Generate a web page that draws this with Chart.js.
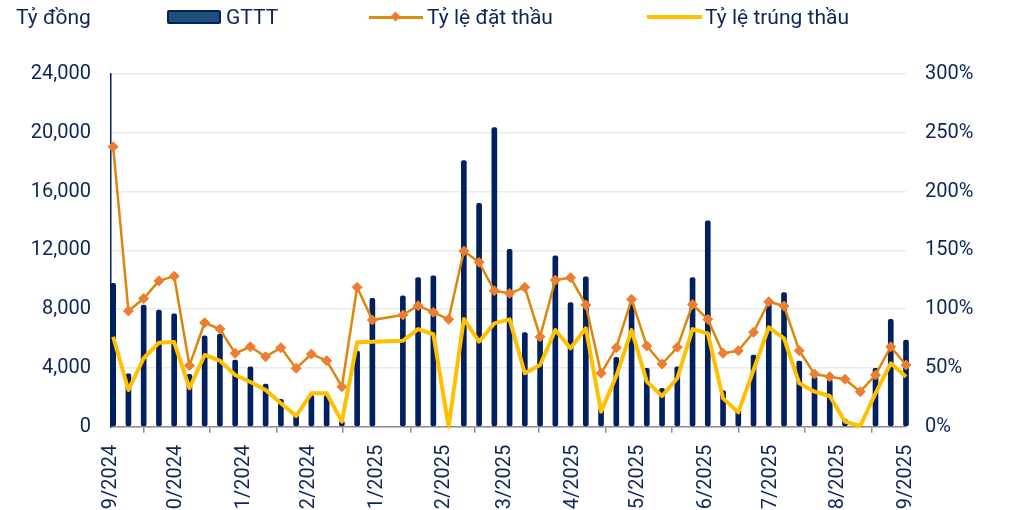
<!DOCTYPE html>
<html>
<head>
<meta charset="utf-8">
<script src="https://cdn.jsdelivr.net/npm/chart.js@4.4.1/dist/chart.umd.min.js"></script>
<style>
  html, body { margin: 0; padding: 0; background: #fff; overflow: hidden; width: 1010px; height: 510px; }
  #wrap { position: relative; width: 1010px; height: 510px; overflow: hidden; font-family: Roboto, sans-serif; color: #0d2557; }
  #chart { position: absolute; left: 0; top: 0; }
  .lbl { position: absolute; font-size: 21px; line-height: 21px; white-space: nowrap; }
  .swatch { position: absolute; }
</style>
</head>
<body>
<div id="wrap">
  <canvas id="chart" width="1010" height="530"></canvas>
  <div class="lbl" style="left:16px; top:7px;">Tỷ đồng</div>
  <div class="swatch" style="left:167px; top:10px; width:50px; height:10px; background:#1f4e79; border:2px solid #002060; border-radius:2px;"></div>
  <div class="lbl" style="left:226px; top:7px;">GTTT</div>
  <div class="swatch" style="left:369px; top:16px; width:54px; height:3px; background:#e08a10;"></div>
  <div class="swatch" style="left:392px; top:13px; width:7px; height:7px; background:#ed7d31; transform:rotate(45deg);"></div>
  <div class="lbl" style="left:427px; top:7px;">Tỷ lệ đặt thầu</div>
  <div class="swatch" style="left:647px; top:15px; width:55px; height:4px; background:#ffc000;"></div>
  <div class="lbl" style="left:705px; top:7px;">Tỷ lệ trúng thầu</div>
</div>
<script>
// Weekly auction dates (no auction data in the week of 2025-01-08)
const weekDates = [
  "2024-09-04", "2024-09-11", "2024-09-18", "2024-09-25", "2024-10-02", "2024-10-09",
  "2024-10-16", "2024-10-23", "2024-10-30", "2024-11-06", "2024-11-13", "2024-11-20",
  "2024-11-27", "2024-12-04", "2024-12-11", "2024-12-18", "2024-12-25", "2025-01-01",
  "2025-01-15", "2025-01-22", "2025-01-29", "2025-02-05", "2025-02-12", "2025-02-19",
  "2025-02-26", "2025-03-05", "2025-03-12", "2025-03-19", "2025-03-26", "2025-04-02",
  "2025-04-09", "2025-04-16", "2025-04-23", "2025-04-30", "2025-05-07", "2025-05-14",
  "2025-05-21", "2025-05-28", "2025-06-04", "2025-06-11", "2025-06-18", "2025-06-25",
  "2025-07-02", "2025-07-09", "2025-07-16", "2025-07-23", "2025-07-30", "2025-08-06",
  "2025-08-13", "2025-08-20", "2025-08-27", "2025-09-03"
];

// GTTT (ty dong)
const gttt = [
  9750, 3600, 8280, 7940, 7670, 3560, 6190, 6300, 4540, 4080, 2900, 1860,
  800, 2110, 2110, 390, 5150, 8730,
  8910, 10140, 10270, 0, 18100, 15200, 20340, 12070, 6400, 6100, 11630, 8440,
  10200, 1250, 4720, 8390, 3970, 2610, 4080, 10140, 14010, 2450, 1140, 4880,
  8500, 9120, 4470, 3400, 3180, 500, 0, 3970, 7300, 5900
];

// Ty le dat thau (%)
const tyLeDatThau = [
  238, 98.4, 109, 124, 128, 52, 88.4, 83, 62.4, 68, 59.5, 67.2,
  49.6, 61.8, 56.1, 34, 118.5, 90.7,
  95, 102.9, 97.3, 91.3, 149.4, 139.8, 115.6, 113.4, 118.5, 76.5, 124.7, 126.7,
  103.5, 45.4, 67.2, 108.3, 68.6, 53.3, 67.5, 104, 91.3, 62.4, 64.6, 80.3,
  106.3, 102.6, 64.6, 44.8, 42.5, 40.3, 29.8, 44, 68, 52.5
];

// Ty le trung thau (%)
const tyLeTrungThau = [
  76.5, 31.2, 58.2, 71.4, 72, 32.7, 61, 56.1, 44, 38, 31.2, 19.9,
  9.1, 28.4, 28.4, 4.3, 71.8, 72.3,
  73.1, 83, 78.6, 0, 91.6, 72.3, 87.9, 91.3, 45.4, 52.5, 82.2, 66.7,
  83.7, 12.8, 43.1, 82.2, 38.3, 26.1, 41.2, 83, 79.4, 24.1, 12.2, 48.2,
  84.5, 75.2, 36.9, 29.8, 26.1, 4.3, 0.6, 28.4, 53.9, 42.5
];

// Month ticks on the x axis
const tickDates = [
  "2024-09-03", "2024-10-03", "2024-11-03", "2024-12-03", "2025-01-03", "2025-02-03", "2025-03-03",
  "2025-04-03", "2025-05-03", "2025-06-03", "2025-07-03", "2025-08-03", "2025-09-03"
];
const tickLabels = [
  "09/2024", "10/2024", "11/2024", "12/2024", "01/2025", "02/2025", "03/2025",
  "04/2025", "05/2025", "06/2025", "07/2025", "08/2025", "09/2025"
];

const leftTicks = [0, 4000, 8000, 12000, 16000, 20000, 24000];
const rightTicks = [0, 50, 100, 150, 200, 250, 300];

const DAY = 86400000;
const start = Date.parse(tickDates[0]);
const dayOf = (d) => (Date.parse(d) - start) / DAY;
const xs = weekDates.map(dayOf);
const tickXs = tickDates.map(dayOf);

const textColor = "#0d2557";
Chart.defaults.font.family = "Roboto, sans-serif";
Chart.defaults.font.size = 20;
Chart.defaults.color = textColor;

const ctx = document.getElementById("chart").getContext("2d");
new Chart(ctx, {
  data: {
    datasets: [
      {
        type: "line",
        label: "Tỷ lệ trúng thầu",
        data: xs.map((x, i) => ({ x: x, y: tyLeTrungThau[i] })),
        yAxisID: "y1",
        borderColor: "#ffc000",
        borderWidth: 4,
        borderJoinStyle: "round",
        pointRadius: 0,
        tension: 0,
        clip: false,
        order: 1,
      },
      {
        type: "line",
        label: "Tỷ lệ đặt thầu",
        data: xs.map((x, i) => ({ x: x, y: tyLeDatThau[i] })),
        yAxisID: "y1",
        borderColor: "#dc870c",
        borderWidth: 2.5,
        borderJoinStyle: "round",
        pointStyle: "rectRot",
        pointRadius: 5,
        pointBackgroundColor: "#ed7d31",
        pointBorderColor: "#ed7d31",
        pointBorderWidth: 1,
        tension: 0,
        clip: false,
        order: 2,
      },
      {
        type: "bar",
        label: "GTTT",
        data: xs.map((x, i) => ({ x: x, y: gttt[i] })),
        yAxisID: "y",
        backgroundColor: "#002060",
        barThickness: 5,
        borderRadius: 2,
        borderSkipped: false,
        clip: false,
        order: 3,
      },
    ],
  },
  options: {
    responsive: false,
    animation: false,
    layout: { padding: { top: 73.9, left: 0, right: 0, bottom: 0 } },
    plugins: { legend: { display: false }, tooltip: { enabled: false } },
    scales: {
      x: {
        type: "linear",
        min: tickXs[0],
        max: tickXs[tickXs.length - 1],
        offset: false,
        afterBuildTicks: (scale) => {
          scale.ticks = tickXs.map((v) => ({ value: v }));
        },
        afterFit: (scale) => { scale.height = 530 - 426.7; },
        ticks: {
          autoSkip: false,
          minRotation: 90,
          maxRotation: 90,
          padding: 12,
          callback: (v) => tickLabels[tickXs.indexOf(v)],
        },
        grid: { drawOnChartArea: false, drawTicks: true, tickLength: 6, color: "#8c8c8c", lineWidth: 1.5 },
        border: { color: "#8c8c8c", width: 1.5 },
      },
      y: {
        position: "left",
        min: 0,
        max: 24000,
        afterBuildTicks: (scale) => {
          scale.ticks = leftTicks.map((v) => ({ value: v }));
        },
        afterFit: (scale) => { scale.width = 111; },
        ticks: {
          padding: 20,
          callback: (v) => v.toLocaleString("en-US"),
        },
        grid: { color: "#ebebeb", lineWidth: 1.5, drawTicks: false },
        border: { color: "#002060", width: 1.5 },
      },
      y1: {
        position: "right",
        min: 0,
        max: 300,
        afterBuildTicks: (scale) => {
          scale.ticks = rightTicks.map((v) => ({ value: v }));
        },
        afterFit: (scale) => { scale.width = 1010 - 906; },
        ticks: {
          padding: 19,
          callback: (v) => v + "%",
        },
        grid: { display: false, drawTicks: false },
        border: { display: false },
      },
    },
  },
});
</script>
</body>
</html>
